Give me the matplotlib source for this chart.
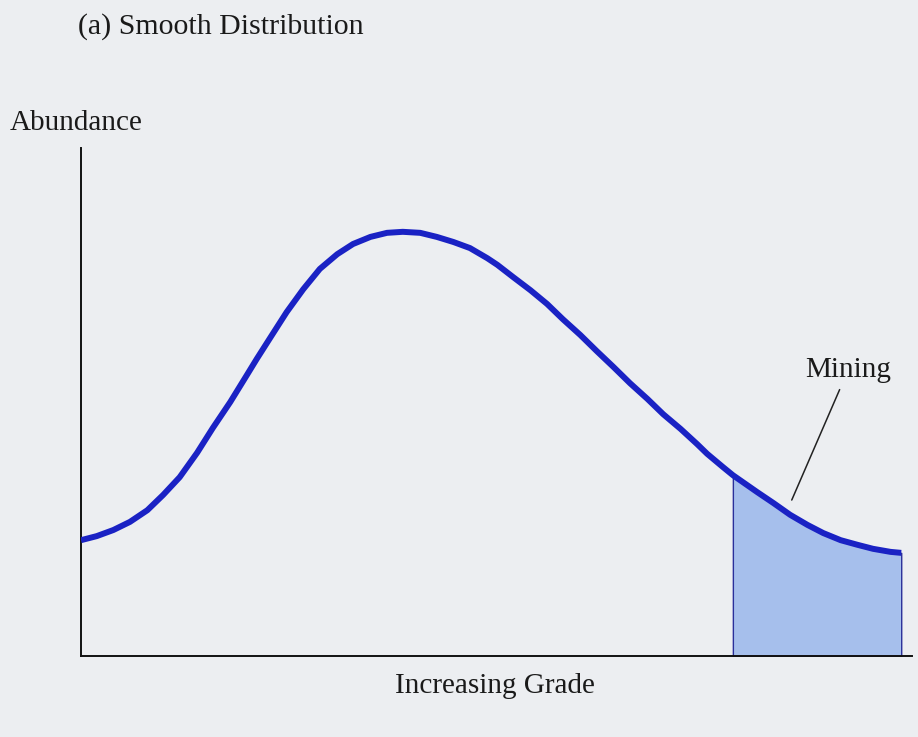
import matplotlib
matplotlib.use("Agg")
import matplotlib.pyplot as plt
import numpy as np

# values (grade 0-100, abundance 0-100)
grade = [0.0, 1.9, 3.9, 5.9, 8.0, 9.9, 11.9, 14.0, 15.9, 18.0,
         20.0, 21.2, 22.8, 24.8, 26.8, 28.8, 30.9, 32.8, 34.9, 36.9,
         38.8, 40.9, 42.9, 44.9, 46.9, 49.0, 50.2, 52.1, 54.2, 56.2,
         58.1, 60.2, 62.2, 64.2, 66.2, 68.3, 70.2, 72.3, 74.3, 75.5,
         77.4, 78.6, 81.5, 83.5, 85.5, 87.6, 89.5, 91.6, 93.6, 95.5,
         97.6, 98.9]
abundance = [22.8, 23.6, 24.8, 26.4, 28.7, 31.7, 35.2, 40.0, 44.9, 50.0,
             55.3, 58.5, 62.6, 67.7, 72.2, 76.2, 79.1, 81.1, 82.5, 83.3,
             83.5, 83.3, 82.5, 81.5, 80.3, 78.3, 77.0, 74.6, 72.0, 69.3,
             66.3, 63.2, 60.0, 56.9, 53.7, 50.6, 47.6, 44.7, 41.7, 39.8,
             37.2, 35.6, 32.3, 30.1, 27.8, 25.8, 24.2, 22.8, 21.9, 21.1,
             20.5, 20.3]
mining_start = 78.6

title = "(a) Smooth Distribution"
ylabel = "Abundance"
xlabel = "Increasing Grade"
mining_label = "Mining"

bg = "#eceef1"
line_col = "#1a22c4"
fill_col = "#a6bfec"
text_col = "#1a1a1a"

plt.rcParams['font.family'] = ['Liberation Serif', 'DejaVu Serif']

W, H = 918, 737
fig = plt.figure(figsize=(W / 100, H / 100), dpi=100, facecolor=bg)

# axes box in pixels: left 81, right 912, bottom 656, top 148
ax = fig.add_axes([81 / W, (H - 656) / H, (912 - 81) / W, (656 - 148) / H])
ax.set_facecolor(bg)
ax.set_xlim(0, 100.2)
ax.set_ylim(0, 100)
for s in ["top", "right"]:
    ax.spines[s].set_visible(False)
for s in ["left", "bottom"]:
    ax.spines[s].set_color("#111111")
    ax.spines[s].set_linewidth(1.4)
ax.set_xticks([])
ax.set_yticks([])

x = np.array(grade)
y = np.array(abundance)
mask = x >= mining_start
ax.fill_between(x[mask], 0, y[mask], facecolor=fill_col, edgecolor="#2a2f9a",
                linewidth=1.0, zorder=2)
ax.plot(x, y, color=line_col, linewidth=4.3, solid_capstyle="butt",
        solid_joinstyle="round", zorder=3)

ax.annotate(mining_label, xy=(85.7, 30.7), xytext=(92.5, 56.3),
            ha="center", va="center", fontsize=21, color=text_col,
            arrowprops=dict(arrowstyle="-", color="#222222", lw=1.1,
                            shrinkA=3, shrinkB=0))

fig.text(78 / W, 1 - 27 / H, title, fontsize=21.5, ha="left", va="center",
         color=text_col)
fig.text(10 / W, 1 - 123 / H, ylabel, fontsize=21, ha="left", va="center",
         color=text_col)
fig.text(495 / W, 1 - 686 / H, xlabel, fontsize=21, ha="center", va="center",
         color=text_col)

fig.savefig("out.png", dpi=100, facecolor=bg)
